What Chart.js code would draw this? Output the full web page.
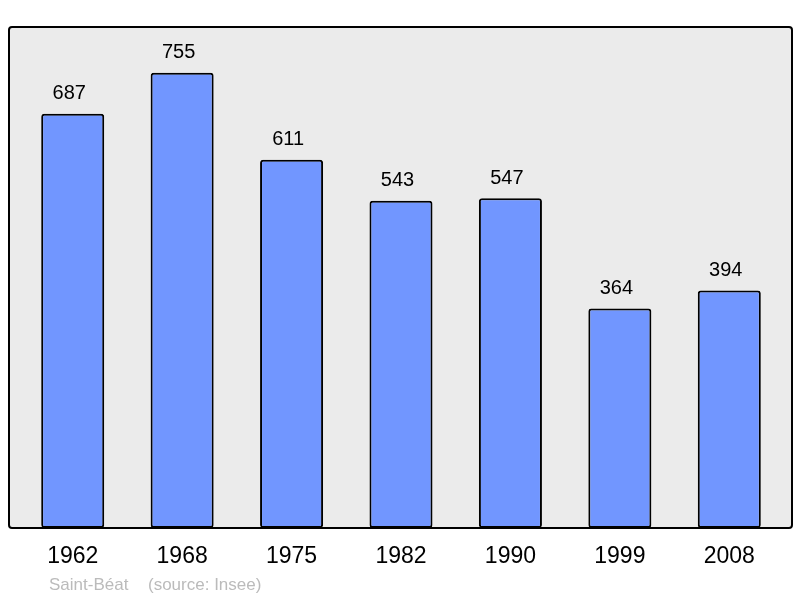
<!DOCTYPE html>
<html><head><meta charset="utf-8">
<script src="https://cdn.jsdelivr.net/npm/chart.js@4/dist/chart.umd.min.js"></script>
<style>html,body{margin:0;padding:0;background:#fff}#w{width:800px;height:598px}</style>
</head><body><div id="w"><canvas id="c" width="800" height="598"></canvas></div>
<script>
const years = ["1962","1968","1975","1982","1990","1999","2008"];
const population = [687,755,611,543,547,364,394];
const footerName = "Saint-Béat";
const footerSource = "(source: Insee)";

const frame = {
  id:'frame',
  beforeDraw(chart){
    const ctx = chart.ctx, a = chart.chartArea;
    const x0 = 9, x1 = 792, y0 = 27, y1 = a.bottom;
    ctx.save();
    ctx.beginPath();
    ctx.roundRect(x0, y0, x1-x0, y1-y0, 3);
    ctx.fillStyle = '#ebebeb';
    ctx.fill();
    ctx.restore();
  },
  afterDatasetsDraw(chart){
    const ctx = chart.ctx, a = chart.chartArea;
    const x0 = 9, x1 = 792, y0 = 27, y1 = a.bottom;
    ctx.save();
    ctx.beginPath();
    ctx.roundRect(x0, y0, x1-x0, y1-y0, 3);
    ctx.lineWidth = 2;
    ctx.strokeStyle = '#000';
    ctx.stroke();
    const meta = chart.getDatasetMeta(0);
    ctx.fillStyle = '#000';
    ctx.font = '20px "Liberation Sans", Arial, sans-serif';
    ctx.textAlign = 'center';
    ctx.textBaseline = 'middle';
    meta.data.forEach((bar,i)=>{
      ctx.fillText(String(population[i]), bar.x - 3.5, bar.y - 20);
    });
    ctx.fillStyle = '#bbbbbb';
    ctx.font = '17px "Liberation Sans", Arial, sans-serif';
    ctx.textAlign = 'left';
    ctx.fillText(footerName, 49, 585);
    ctx.fillText(footerSource, 148, 585);
    ctx.restore();
  }
};

new Chart(document.getElementById('c'), {
  type:'bar',
  data:{labels:years, datasets:[{
    data:population,
    backgroundColor:'#7196ff',
    borderColor:'#000',
    borderWidth:2,
    borderRadius:3,
    borderSkipped:false,
    barPercentage:0.576,
    categoryPercentage:1
  }]},
  options:{
    responsive:false,
    animation:false,
    layout:{padding:{left:18,right:16,top:27,bottom:0}},
    plugins:{legend:{display:false},tooltip:{enabled:false},title:{display:false}},
    scales:{
      x:{
        grid:{display:false},
        border:{display:false},
        ticks:{color:'#000',font:{family:'"Liberation Sans", Arial, sans-serif',size:23},padding:7,maxRotation:0},
        afterFit(s){ s.height = 70; }
      },
      y:{display:false,min:0,max:831}
    }
  },
  plugins:[frame]
});
</script></body></html>
